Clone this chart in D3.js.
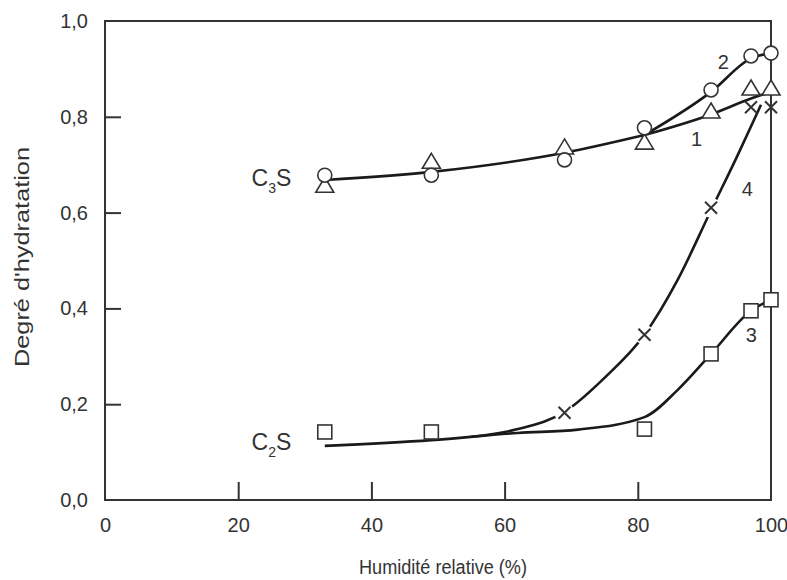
<!DOCTYPE html>
<html>
<head>
<meta charset="utf-8">
<script src="https://cdn.jsdelivr.net/npm/d3@7"></script>
<style>
  body { margin: 0; background: #fff; }
  text { font-family: "Liberation Sans", Arial, sans-serif; fill: #333; }
</style>
</head>
<body>
<svg id="chart" width="787" height="580"></svg>
<script>
// measured points (humidity %, degree of hydration)
var humidity = [33, 49, 69, 81, 91, 97, 100];
var c3sCircles = [0.678, 0.678, 0.71, 0.777, 0.856, 0.927, 0.933];     // curve 2
var c3sTriangles = [0.655, 0.705, 0.735, 0.745, 0.81, 0.858, 0.858];   // curve 1
var c2sSquares = [0.142, 0.142, null, 0.148, 0.305, 0.395, 0.418];     // curve 3
var crossHumidity = [69, 81, 91, 97, 100];
var c2sCrosses = [0.182, 0.345, 0.61, 0.82, 0.82];                     // curve 4

// fitted curves
var commonX = [33, 49, 69, 81];
var commonY = [0.668, 0.685, 0.725, 0.762];
var curve2X = [81, 91, 97, 100];
var curve2Y = [0.762, 0.852, 0.922, 0.933];
var curve1X = [81, 91, 97, 100];
var curve1Y = [0.762, 0.805, 0.838, 0.852];
var curve3X = [33, 49, 62, 71, 81, 86, 91, 97, 100];
var curve3Y = [0.113, 0.125, 0.14, 0.147, 0.173, 0.23, 0.305, 0.395, 0.418];
var curve4X = [55, 62, 69, 75, 81, 86, 91, 95, 98.5];
var curve4Y = [0.132, 0.148, 0.184, 0.255, 0.345, 0.46, 0.605, 0.72, 0.825];

var xTicks = [0, 20, 40, 60, 80, 100];
var yTicks = [0, 0.2, 0.4, 0.6, 0.8, 1.0];

var svg = d3.select("#chart"),
    margin = {top: 21, right: 16, bottom: 80, left: 105},
    width = 787 - margin.left - margin.right,
    height = 580 - margin.top - margin.bottom,
    g = svg.append("g").attr("transform", "translate(" + margin.left + "," + margin.top + ")");

var x = d3.scaleLinear().domain([0, 100]).range([0, width]);
var y = d3.scaleLinear().domain([0, 1]).range([height, 0]);
var fmt = function(d) { return d3.format(".1f")(d).replace(".", ","); };

// frame
g.append("rect")
    .attr("width", width)
    .attr("height", height)
    .attr("fill", "none")
    .attr("stroke", "#333")
    .attr("stroke-width", 2);

// axes with inward ticks
var xAxis = g.append("g")
    .attr("transform", "translate(0," + height + ")")
    .call(d3.axisBottom(x).tickValues(xTicks).tickSizeInner(-18).tickSizeOuter(0).tickPadding(18));
var yAxis = g.append("g")
    .call(d3.axisLeft(y).tickValues(yTicks).tickFormat(fmt).tickSizeInner(-16).tickSizeOuter(0).tickPadding(17));
[xAxis, yAxis].forEach(function(a) {
  a.select(".domain").remove();
  a.selectAll(".tick line").attr("stroke", "#333").attr("stroke-width", 2)
    .filter(function(d) { return d === 0 || d === 100 || d === 1; }).remove();
  a.selectAll(".tick text").attr("font-size", 20).attr("fill", "#333")
    .style("font-family", "'Liberation Sans', Arial, sans-serif");
});

// axis titles
svg.append("text")
    .attr("x", 443)
    .attr("y", 574)
    .attr("text-anchor", "middle")
    .attr("font-size", 20)
    .attr("textLength", 168)
    .attr("lengthAdjust", "spacingAndGlyphs")
    .text("Humidité relative (%)");
svg.append("text")
    .attr("transform", "translate(29,257) rotate(-90)")
    .attr("text-anchor", "middle")
    .attr("font-size", 20)
    .attr("textLength", 220)
    .attr("lengthAdjust", "spacingAndGlyphs")
    .text("Degré d'hydratation");

// curves
var line = d3.line()
    .x(function(d) { return x(d[0]); })
    .y(function(d) { return y(d[1]); })
    .curve(d3.curveMonotoneX);
function pairs(xs, ys) { return xs.map(function(v, i) { return [v, ys[i]]; }); }

var curves = g.append("g").attr("fill", "none").attr("stroke", "#1a1a1a").attr("stroke-width", 2.6);
[[commonX, commonY], [curve2X, curve2Y], [curve1X, curve1Y], [curve3X, curve3Y], [curve4X, curve4Y]]
  .forEach(function(c) {
    curves.append("path").attr("d", line(pairs(c[0], c[1])));
  });

// markers
var mk = g.append("g").attr("stroke", "#333").attr("stroke-width", 1.6).attr("fill", "#fff");

// crosses: break the line with a white gap
crossHumidity.forEach(function(h, i) {
  var cx = x(h), cy = y(c2sCrosses[i]);
  if (h < 95) mk.append("circle").attr("cx", cx).attr("cy", cy).attr("r", 10).attr("fill", "#fff").attr("stroke", "none");
  mk.append("path")
    .attr("d", "M" + (cx - 6) + "," + (cy - 6) + "L" + (cx + 6) + "," + (cy + 6) +
               "M" + (cx - 6) + "," + (cy + 6) + "L" + (cx + 6) + "," + (cy - 6))
    .attr("stroke-width", 2);
});

humidity.forEach(function(h, i) {
  var cx = x(h);
  // triangles (curve 1)
  var ty = y(c3sTriangles[i]);
  mk.append("path").attr("d", "M" + cx + "," + (ty - 9) + "L" + (cx + 9) + "," + (ty + 6) + "L" + (cx - 9) + "," + (ty + 6) + "Z");
  // circles (curve 2)
  mk.append("circle").attr("cx", cx).attr("cy", y(c3sCircles[i])).attr("r", 7);
  // squares (curve 3)
  if (c2sSquares[i] != null) {
    var sy = y(c2sSquares[i]);
    mk.append("rect").attr("x", cx - 7).attr("y", sy - 7).attr("width", 14).attr("height", 14);
  }
});

// labels
function species(xv, yv, sub) {
  var t = g.append("text").attr("x", x(xv)).attr("y", y(yv)).attr("font-size", 23);
  t.append("tspan").text("C");
  t.append("tspan").attr("font-size", 14).attr("dy", 7).text(sub);
  t.append("tspan").attr("dy", -7).text("S");
}
species(22, 0.655, "3");
species(22, 0.105, "2");

var curveNums = [["1", 88, 0.74], ["2", 92, 0.9], ["3", 96.2, 0.33], ["4", 95.6, 0.635]];
curveNums.forEach(function(d) {
  g.append("text").attr("x", x(d[1])).attr("y", y(d[2])).attr("font-size", 20).text(d[0]);
});
</script>
</body>
</html>
